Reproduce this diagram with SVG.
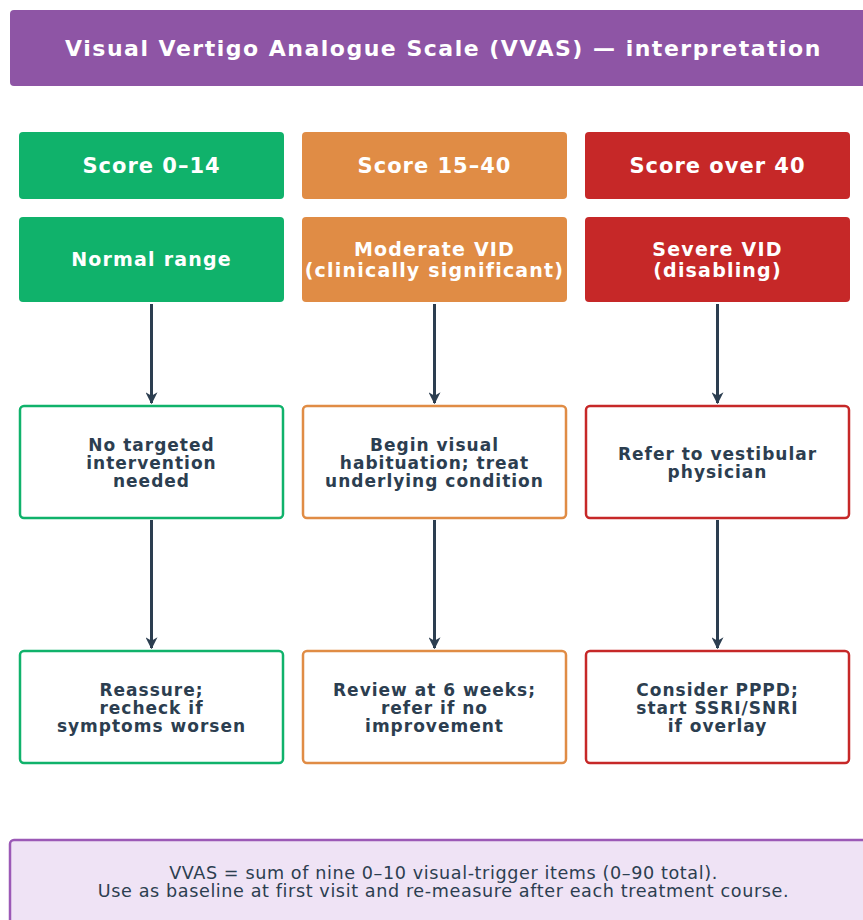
<svg xmlns="http://www.w3.org/2000/svg" width="863" height="920" viewBox="0 0 863 920">
<defs>
<marker id="ah" viewBox="0 0 10 10" refX="9" refY="5" markerWidth="4" markerHeight="4" orient="auto" markerUnits="strokeWidth">
<path d="M0,0 L10,5 L0,10 L3,5 Z" fill="#2c3e50"/>
</marker>
<style>
text{font-family:"DejaVu Sans",sans-serif;text-anchor:middle}
.title{font-size:22px;font-weight:bold;fill:#fff;letter-spacing:1.5px}
.hd{font-size:21px;font-weight:bold;fill:#fff;letter-spacing:1px}
.sub{font-size:19px;font-weight:bold;fill:#fff;letter-spacing:1.2px}
.bt{font-size:17px;font-weight:bold;fill:#2c3e50;letter-spacing:1px}
.ft{font-size:17.6px;fill:#2c3e50;letter-spacing:0.6px}
.g{fill:#10b26b}.o{fill:#e08c45}.r{fill:#c62828}
.og{fill:#fff;stroke:#10b26b;stroke-width:2.5}
.oo{fill:#fff;stroke:#e08c45;stroke-width:2.5}
.or{fill:#fff;stroke:#c62828;stroke-width:2.5}
.arr{stroke:#2c3e50;stroke-width:3;fill:none;marker-end:url(#ah)}
</style>
</defs>
<rect width="863" height="920" fill="#fff"/>
<g id="title">
<rect x="10" y="10" width="867" height="76" rx="4" fill="#8e55a5"/>
<text class="title" x="443.5" y="56">Visual Vertigo Analogue Scale (VVAS) — interpretation</text>
</g>
<g id="connectors">
<line class="arr" x1="151.5" y1="304" x2="151.5" y2="403"/>
<line class="arr" x1="434.5" y1="304" x2="434.5" y2="403"/>
<line class="arr" x1="717.5" y1="304" x2="717.5" y2="403"/>
<line class="arr" x1="151.5" y1="520" x2="151.5" y2="648"/>
<line class="arr" x1="434.5" y1="520" x2="434.5" y2="648"/>
<line class="arr" x1="717.5" y1="520" x2="717.5" y2="648"/>
</g>
<g id="h1"><rect class="g" x="19" y="132" width="265" height="67" rx="4"/><text class="hd" x="151.5" y="173">Score 0–14</text></g>
<g id="h2"><rect class="o" x="302" y="132" width="265" height="67" rx="4"/><text class="hd" x="434.5" y="173">Score 15–40</text></g>
<g id="h3"><rect class="r" x="585" y="132" width="265" height="67" rx="4"/><text class="hd" x="717.5" y="173">Score over 40</text></g>
<g id="s1"><rect class="g" x="19" y="217" width="265" height="85" rx="4"/><text class="sub" x="151.5" y="266">Normal range</text></g>
<g id="s2"><rect class="o" x="302" y="217" width="265" height="85" rx="4"/><text class="sub" x="434.5" y="256">Moderate VID</text><text class="sub" x="434.5" y="277">(clinically significant)</text></g>
<g id="s3"><rect class="r" x="585" y="217" width="265" height="85" rx="4"/><text class="sub" x="717.5" y="256">Severe VID</text><text class="sub" x="717.5" y="277">(disabling)</text></g>
<g id="a1"><rect class="og" x="20" y="406" width="263" height="112" rx="4"/><text class="bt" x="151.5" y="451">No targeted</text><text class="bt" x="151.5" y="469">intervention</text><text class="bt" x="151.5" y="487">needed</text></g>
<g id="a2"><rect class="oo" x="303" y="406" width="263" height="112" rx="4"/><text class="bt" x="434.5" y="451">Begin visual</text><text class="bt" x="434.5" y="469">habituation; treat</text><text class="bt" x="434.5" y="487">underlying condition</text></g>
<g id="a3"><rect class="or" x="586" y="406" width="263" height="112" rx="4"/><text class="bt" x="717.5" y="460">Refer to vestibular</text><text class="bt" x="717.5" y="478">physician</text></g>
<g id="b1"><rect class="og" x="20" y="651" width="263" height="112" rx="4"/><text class="bt" x="151.5" y="696">Reassure;</text><text class="bt" x="151.5" y="714">recheck if</text><text class="bt" x="151.5" y="732">symptoms worsen</text></g>
<g id="b2"><rect class="oo" x="303" y="651" width="263" height="112" rx="4"/><text class="bt" x="434.5" y="696">Review at 6 weeks;</text><text class="bt" x="434.5" y="714">refer if no</text><text class="bt" x="434.5" y="732">improvement</text></g>
<g id="b3"><rect class="or" x="586" y="651" width="263" height="112" rx="4"/><text class="bt" x="717.5" y="696">Consider PPPD;</text><text class="bt" x="717.5" y="714">start SSRI/SNRI</text><text class="bt" x="717.5" y="732">if overlay</text></g>
<g id="footer">
<rect x="10" y="840" width="867" height="100" rx="4" fill="#efe3f5" stroke="#9b59b6" stroke-width="2.5"/>
<text class="ft" x="443.5" y="879">VVAS = sum of nine 0–10 visual-trigger items (0–90 total).</text>
<text class="ft" x="443.5" y="897">Use as baseline at first visit and re-measure after each treatment course.</text>
</g>
</svg>
